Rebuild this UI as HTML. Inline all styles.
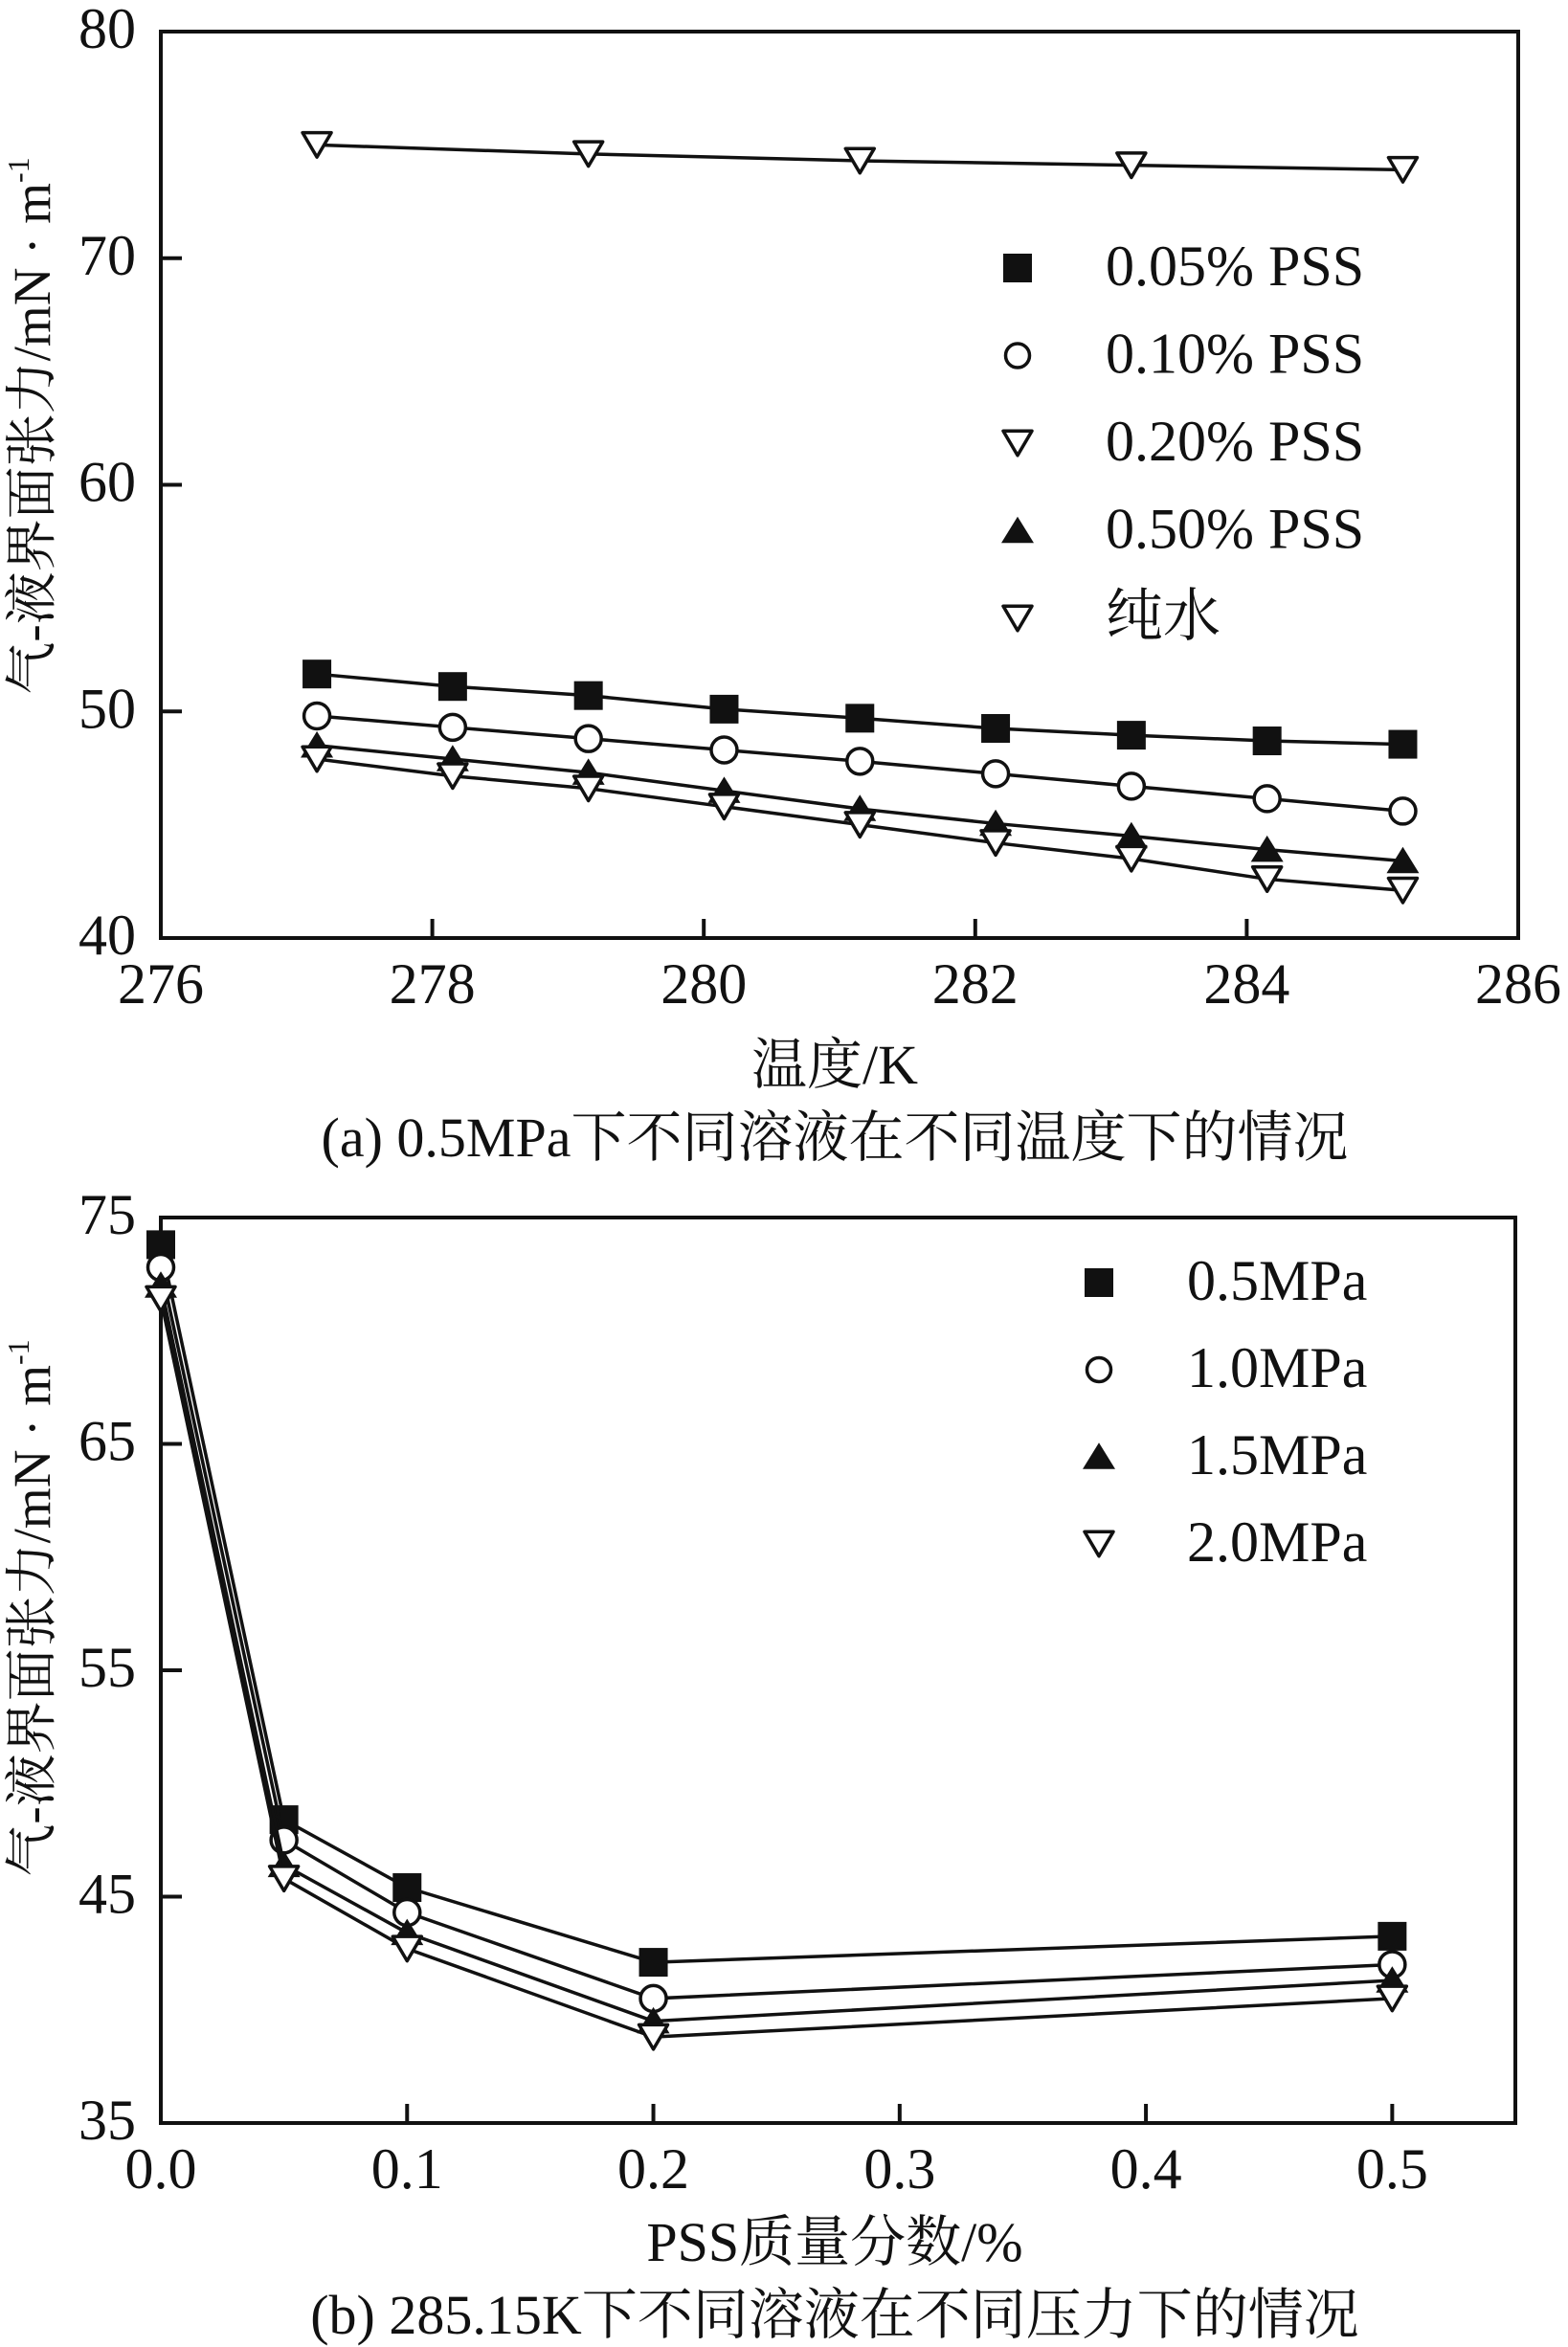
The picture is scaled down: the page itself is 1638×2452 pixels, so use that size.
<!DOCTYPE html>
<html><head><meta charset="utf-8">
<style>
html,body{margin:0;padding:0;background:#fff;}
svg{display:block;}
text{font-family:"Liberation Serif","Times New Roman","Noto Serif CJK SC",serif;fill:#111;}
</style></head>
<body>
<svg id="fig" width="1638" height="2452" viewBox="0 0 1638 2452" xmlns="http://www.w3.org/2000/svg" font-family="Liberation Serif, Noto Serif CJK SC, serif">
  <g id="chartA"></g>
  <g id="chartB"></g>
</svg>
<script>
// ---- Chart (a) data ----
const tempsA = [277.15, 278.15, 279.15, 280.15, 281.15, 282.15, 283.15, 284.15, 285.15];
const waterTemps = [277.15, 279.15, 281.15, 283.15, 285.15];
const pss005 = [51.65, 51.1, 50.7, 50.1, 49.7, 49.25, 48.95, 48.7, 48.55];
const pss010 = [49.8, 49.3, 48.8, 48.3, 47.8, 47.25, 46.7, 46.15, 45.6];
const pss020 = [47.9, 47.15, 46.6, 45.8, 45.0, 44.2, 43.5, 42.6, 42.1];
const pss050 = [48.5, 47.9, 47.3, 46.5, 45.7, 45.05, 44.5, 43.9, 43.4];
const pureWater = [75.0, 74.6, 74.3, 74.1, 73.9];
const xTicksA = [276, 278, 280, 282, 284, 286];
const yTicksA = [40, 50, 60, 70, 80];
const legendA = ["0.05% PSS", "0.10% PSS", "0.20% PSS", "0.50% PSS", "纯水"];

// ---- Chart (b) data ----
const concB = [0.0, 0.05, 0.1, 0.2, 0.5];
const p05 = [73.8, 48.4, 45.4, 42.1, 43.25];
const p10 = [72.8, 47.5, 44.3, 40.5, 42.0];
const p15 = [72.0, 46.4, 43.4, 39.5, 41.3];
const p20 = [71.4, 45.8, 42.7, 38.8, 40.5];
const xTicksB = [0.0, 0.1, 0.2, 0.3, 0.4, 0.5];
const yTicksB = [35, 45, 55, 65, 75];
const legendB = ["0.5MPa", "1.0MPa", "1.5MPa", "2.0MPa"];

const NS = "http://www.w3.org/2000/svg";
function mk(tag, attrs, parent){const e=document.createElementNS(NS,tag);for(const k in attrs)e.setAttribute(k,attrs[k]);parent.appendChild(e);return e;}

function marker(g, type, cx, cy, s){
  let e;
  if(type==="square"){e=mk("rect",{x:cx-s/2,y:cy-s/2,width:s,height:s,fill:"#111"},g);}
  else if(type==="circle"){e=mk("circle",{cx:cx,cy:cy,r:s/2-1.5,fill:"#fff",stroke:"#111","stroke-width":3.5},g);}
  else if(type==="down"){const h=s*0.85;e=mk("polygon",{points:`${cx-s/2},${cy-h/2} ${cx+s/2},${cy-h/2} ${cx},${cy+h/2}`,fill:"#fff",stroke:"#111","stroke-width":3.5,"stroke-linejoin":"round"},g);}
  else {const h=s*0.85;e=mk("polygon",{points:`${cx-s/2-2},${cy+h/2} ${cx+s/2+2},${cy+h/2} ${cx},${cy-h/2-2}`,fill:"#111"},g);}
  return e;
}

function drawChart(g, cfg){
  const L=cfg.left,R=cfg.right,T=cfg.top,B=cfg.bottom;
  const sx=v=>L+(v-cfg.xmin)/(cfg.xmax-cfg.xmin)*(R-L);
  const sy=v=>B-(v-cfg.ymin)/(cfg.ymax-cfg.ymin)*(B-T);
  const frame=mk("rect",{x:L,y:T,width:R-L,height:B-T,fill:"none",stroke:"#111","stroke-width":4},g);
  
  
  cfg.xTicks.forEach(v=>{
    const x=sx(v);
    const t=mk("line",{x1:x,y1:B,x2:x,y2:B-20,stroke:"#111","stroke-width":4},g);
    
    
    const lb=mk("text",{x:x,y:B+68,"font-size":60,"text-anchor":"middle"},g);
    lb.textContent=cfg.xFmt(v);
    
    
  });
  cfg.yTicks.forEach(v=>{
    const y=sy(v);
    const t=mk("line",{x1:L,y1:y,x2:L+22,y2:y,stroke:"#111","stroke-width":4},g);
    
    
    const lb=mk("text",{x:142,y:y+17,"font-size":60,"text-anchor":"end"},g);
    lb.textContent=String(v);
    
    
  });
  cfg.series.forEach(s=>{
    const sg=mk("g",{},g);
    
    
    const pts=s.xs.map((x,i)=>sx(x)+","+sy(s.ys[i])).join(" ");
    const pl=mk("polyline",{points:pts,fill:"none",stroke:"#111","stroke-width":3.5},sg);
    
    
    s.xs.forEach((x,i)=>{
      const m=marker(sg,s.type,sx(x),sy(s.ys[i]),30);
      
      
    });
  });
  cfg.legend.forEach((lab,i)=>{
    const cy=cfg.legY0+i*cfg.legDy;
    const lg=mk("g",{},g);
    
    
    const m=marker(lg,cfg.legTypes[i],cfg.legMX,cy,cfg.legTypes[i]==="circle"?28:30);
    
    
    const t=mk("text",{x:cfg.legTX,y:cy+18,"font-size":60},lg);
    t.textContent=lab;
    
    
  });
  const yt=mk("text",{x:0,y:0,"font-size":55,"text-anchor":"middle",transform:`translate(52,${cfg.yTitleY}) rotate(-90)`},g);
  yt.textContent="气-液界面张力/mN · m";
  const sup=mk("tspan",{"font-size":32,dy:-22},yt);
  sup.textContent="-1";
  
  
  const xt=mk("text",{x:cfg.xTitleX,y:cfg.xTitleY,"font-size":58,"text-anchor":"middle"},g);
  xt.textContent=cfg.xTitle;
  
  
  const cp=mk("text",{x:872,y:cfg.capY,"font-size":58,"text-anchor":"middle"},g);
  cp.textContent=cfg.caption;
  
  
}

drawChart(document.getElementById("chartA"),{
  left:168,right:1586,top:33,bottom:980,xmin:276,xmax:286,ymin:40,ymax:80,
  xTicks:xTicksA,yTicks:yTicksA,xFmt:v=>String(v),
  series:[
    {name:"series-pure-water",type:"down",xs:waterTemps,ys:pureWater},
    {name:"series-0-05-pss",type:"square",xs:tempsA,ys:pss005},
    {name:"series-0-10-pss",type:"circle",xs:tempsA,ys:pss010},
    {name:"series-0-50-pss",type:"up",xs:tempsA,ys:pss050},
    {name:"series-0-20-pss",type:"down",xs:tempsA,ys:pss020}
  ],
  legend:legendA,legTypes:["square","circle","down","up","down"],
  legMX:1063,legTX:1155,legY0:280,legDy:91.5,
  yTitleY:445,xTitle:"温度/K",xTitleX:872,xTitleY:1132,
  caption:"(a) 0.5MPa下不同溶液在不同温度下的情况",capY:1208
});
drawChart(document.getElementById("chartB"),{
  left:168,right:1583,top:1272,bottom:2218,xmin:0,xmax:0.55,ymin:35,ymax:75,
  xTicks:xTicksB,yTicks:yTicksB,xFmt:v=>v.toFixed(1),
  series:[
    {name:"series-0-5mpa",type:"square",xs:concB,ys:p05},
    {name:"series-1-0mpa",type:"circle",xs:concB,ys:p10},
    {name:"series-1-5mpa",type:"up",xs:concB,ys:p15},
    {name:"series-2-0mpa",type:"down",xs:concB,ys:p20}
  ],
  legend:legendB,legTypes:["square","circle","up","down"],
  legMX:1148,legTX:1240,legY0:1340,legDy:91,
  yTitleY:1680,xTitle:"PSS质量分数/%",xTitleX:872,xTitleY:2362,
  caption:"(b) 285.15K下不同溶液在不同压力下的情况",capY:2438
});
</script>
</body></html>
